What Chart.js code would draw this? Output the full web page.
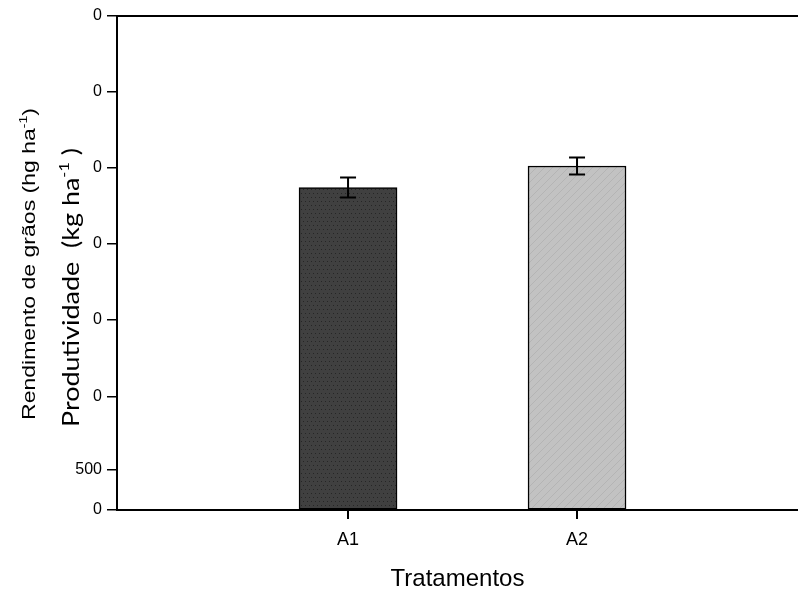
<!DOCTYPE html>
<html><head><meta charset="utf-8">
<script src="https://cdn.jsdelivr.net/npm/chart.js@4.4.0/dist/chart.umd.min.js"></script>
<style>html,body{margin:0;padding:0;background:#fff}#wrap{width:798px;height:594px;position:relative}</style>
</head><body><div id="wrap"><canvas id="c"></canvas></div>
<script>
// ---- data ----
const categories = ['A1', 'A2'];
const categoryPositions = [1, 2];
const yields = [4030, 4300];
const errors = [125, 105];
const yTickValues = [0, 500, 1412.5, 2375, 3325, 4275, 5225, 6175];
const yTickLabels = ['0', '500', '0', '0', '0', '0', '0', '0'];
const xTitle = 'Tratamentos';
const yTitle1 = ['Rendimento de grãos (hg ha', '-1', ')'];
const yTitle2 = ['Produtividade  (kg ha', '-1', ' )'];

function makePattern(base, dot, kind) {
  const p = document.createElement('canvas');
  p.width = 8; p.height = 8;
  const g = p.getContext('2d');
  g.fillStyle = base; g.fillRect(0, 0, 8, 8);
  g.fillStyle = dot;
  if (kind === 'dots') {
    g.fillRect(1, 1, 1, 1); g.fillRect(5, 1, 1, 1);
    g.fillRect(3, 5, 1, 1); g.fillRect(7, 5, 1, 1);
  } else {
    for (let i = 0; i < 8; i++) { g.fillRect(i, 7 - i, 1, 1); }
  }
  return g.createPattern(p, 'repeat');
}
const barColors = [makePattern('#404040', '#262626', 'dots'), makePattern('#c2c2c2', '#b4b4b4', 'hatch')];

const frameLine = {
  id: 'frameLine',
  afterDraw(chart) {
    const {ctx, chartArea: a} = chart;
    const xs = chart.scales.x;
    ctx.save();
    ctx.strokeStyle = '#000';
    ctx.lineWidth = 2;
    ctx.beginPath();
    ctx.moveTo(a.left, a.top);
    ctx.lineTo(a.right, a.top);
    ctx.stroke();
    ctx.fillStyle = '#000';
    categoryPositions.forEach(v => {
      const x = Math.round(xs.getPixelForValue(v));
      ctx.fillRect(x - 1, a.bottom, 2, 9);
    });
    ctx.restore();
  }
};

const errorBars = {
  id: 'errorBars',
  afterDatasetsDraw(chart) {
    const {ctx} = chart;
    const xs = chart.scales.x, ys = chart.scales.y;
    ctx.save();
    ctx.strokeStyle = '#000';
    ctx.lineWidth = 2;
    yields.forEach((v, i) => {
      const x = xs.getPixelForValue(categoryPositions[i]);
      const yT = ys.getPixelForValue(v + errors[i]);
      const yB = ys.getPixelForValue(v - errors[i]);
      ctx.beginPath();
      ctx.moveTo(x, yT); ctx.lineTo(x, yB);
      ctx.moveTo(x - 8, yT); ctx.lineTo(x + 8, yT);
      ctx.moveTo(x - 8, yB); ctx.lineTo(x + 8, yB);
      ctx.stroke();
    });
    ctx.restore();
  }
};

function drawRotTitle(ctx, parts, baseX, startY, targetLen, font, supFont, supRise) {
  ctx.save();
  ctx.font = font;
  const w0 = ctx.measureText(parts[0]).width;
  const w2 = ctx.measureText(parts[2]).width;
  ctx.font = supFont;
  const w1 = ctx.measureText(parts[1]).width;
  const total = w0 + w1 + w2;
  const sx = targetLen / total;
  ctx.translate(baseX, startY);
  ctx.rotate(-Math.PI / 2);
  ctx.scale(sx, 1);
  ctx.fillStyle = '#000';
  ctx.textAlign = 'left';
  ctx.textBaseline = 'alphabetic';
  ctx.font = font;
  ctx.fillText(parts[0], 0, 0);
  ctx.font = supFont;
  ctx.fillText(parts[1], w0, -supRise);
  ctx.font = font;
  ctx.fillText(parts[2], w0 + w1, 0);
  ctx.restore();
}

const yTitles = {
  id: 'yTitles',
  afterDraw(chart) {
    const {ctx} = chart;
    drawRotTitle(ctx, yTitle1, 35, 420, 312, '18px "Liberation Sans", Arial', '11px "Liberation Sans", Arial', 8);
    drawRotTitle(ctx, yTitle2, 79, 427, 279, '23px Lato, "Open Sans"', '14px Lato, "Open Sans"', 10);
  }
};

new Chart(document.getElementById('c'), {
  type: 'bar',
  data: {
    datasets: [{
      data: categories.map((c, i) => ({x: categoryPositions[i], y: yields[i]})),
      backgroundColor: barColors,
      borderColor: '#000',
      borderWidth: 1.5,
      borderSkipped: false,
      barThickness: 98
    }]
  },
  options: {
    responsive: true,
    maintainAspectRatio: false,
    animation: false,
    devicePixelRatio: 1,
    layout: {padding: {top: 16, left: 0, right: 0, bottom: 0}},
    plugins: {legend: {display: false}, tooltip: {enabled: false}},
    scales: {
      x: {
        type: 'linear',
        min: -0.009,
        max: 2.965,
        offset: false,
        afterBuildTicks(scale) { scale.ticks = categoryPositions.map(v => ({value: v})); },
        afterFit(scale) { scale.height = 84; },
        ticks: {
          autoSkip: false,
          color: '#000',
          padding: 11,
          font: {family: '"Liberation Sans", Arial', size: 18},
          callback: (v) => { const k = categoryPositions.indexOf(v); return k >= 0 ? categories[k] : ''; }
        },
        grid: {offset: false, drawOnChartArea: false, drawTicks: true, tickLength: 8, color: '#000', lineWidth: 2},
        border: {display: true, color: '#000', width: 2},
        title: {display: true, text: xTitle, color: '#000', font: {family: '"Liberation Sans", Arial', size: 24}, padding: {top: 0, bottom: 0}}
      },
      y: {
        type: 'linear',
        min: 0,
        max: 6175,
        afterBuildTicks(scale) { scale.ticks = yTickValues.map(v => ({value: v})); },
        afterFit(scale) { scale.width = 117; },
        ticks: {
          autoSkip: false,
          color: '#000',
          padding: 5,
          font: {family: '"Liberation Sans", Arial', size: 16},
          callback: (v, i) => yTickLabels[i]
        },
        grid: {drawOnChartArea: false, drawTicks: true, tickLength: 10, color: '#000', lineWidth: 1.5},
        border: {display: true, color: '#000', width: 2}
      }
    }
  },
  plugins: [frameLine, errorBars, yTitles]
});
</script>
</body></html>
